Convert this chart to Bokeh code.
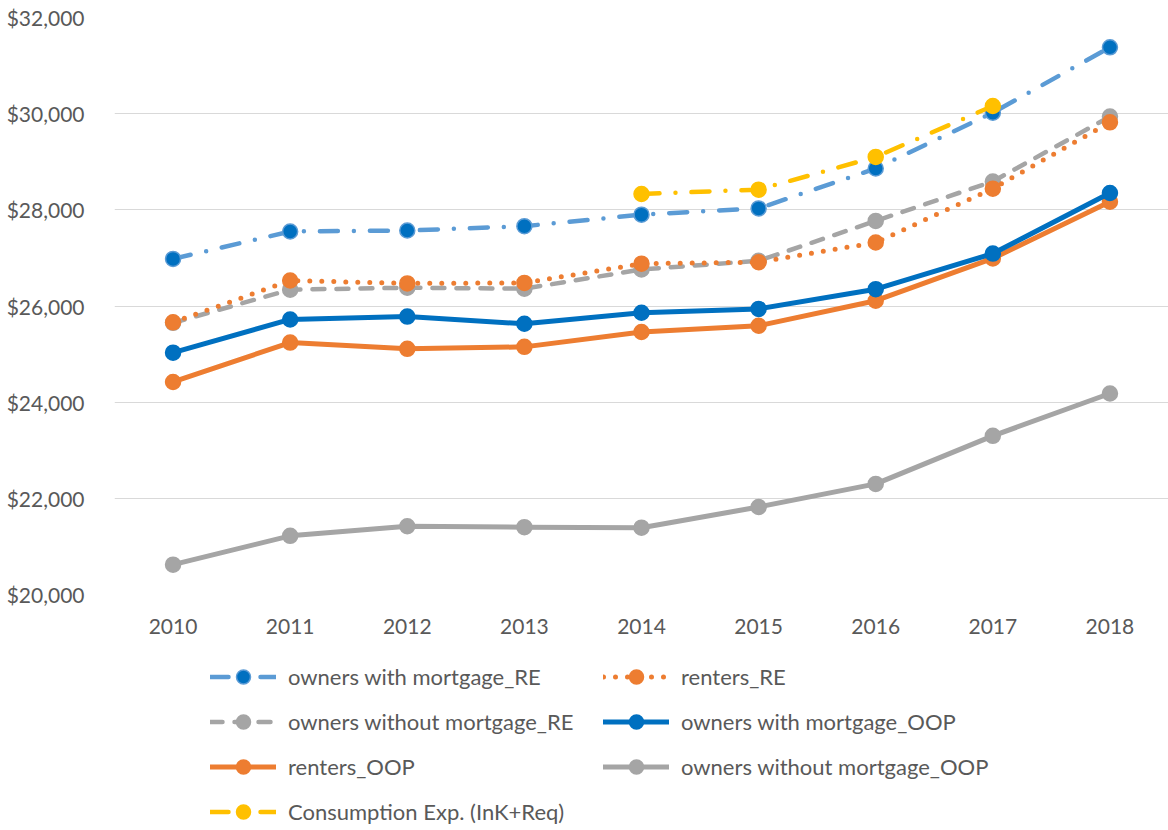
from bokeh.plotting import figure
from bokeh.layouts import column
from bokeh.models import Legend, LegendItem, NumeralTickFormatter, FixedTicker, Range1d
from bokeh.embed import file_html
from bokeh.resources import INLINE

years = ["2010", "2011", "2012", "2013", "2014", "2015", "2016", "2017", "2018"]
owners_mortgage_RE = [26980, 27550, 27570, 27660, 27900, 28030, 28860, 30020, 31380]
renters_RE = [25660, 26530, 26470, 26480, 26880, 26910, 27320, 28440, 29820]
owners_nomortgage_RE = [25650, 26340, 26380, 26360, 26760, 26940, 27770, 28590, 29940]
owners_mortgage_OOP = [25030, 25720, 25780, 25630, 25860, 25940, 26350, 27090, 28350]
renters_OOP = [24420, 25240, 25110, 25150, 25460, 25590, 26110, 26990, 28170]
owners_nomortgage_OOP = [20620, 21220, 21420, 21400, 21390, 21820, 22300, 23300, 24180]
consumption_years = ["2014", "2015", "2016", "2017"]
consumption = [28330, 28420, 29100, 30160]
y_ticks = [20000, 22000, 24000, 26000, 28000, 30000, 32000]

FONT = "Lato"
TXT = "#595959"

p = figure(x_range=years, y_range=Range1d(20000, 32000), width=1168, height=640,
           output_backend="svg", toolbar_location=None,
           min_border_left=114, min_border_right=0, min_border_top=17, min_border_bottom=46)
p.outline_line_color = None
p.xgrid.grid_line_color = None
p.ygrid.grid_line_color = "#D9D9D9"
p.ygrid.grid_line_width = 1
p.yaxis.ticker = FixedTicker(ticks=y_ticks)
p.yaxis.formatter = NumeralTickFormatter(format="$0,0")
for ax in (p.xaxis[0], p.yaxis[0]):
    ax.axis_line_color = None
    ax.major_tick_line_color = None
    ax.minor_tick_line_color = None
    ax.major_label_text_font = FONT
    ax.major_label_text_font_size = "21px"
    ax.major_label_text_color = TXT
p.yaxis.major_label_standoff = 24
p.xaxis.major_label_standoff = 18

# legend figure (frame aligned with the main plot's frame)
lp = figure(width=1168, height=190, output_backend="svg", toolbar_location=None,
            x_axis_type=None, y_axis_type=None,
            min_border_left=114, min_border_right=0, min_border_top=0, min_border_bottom=0,
            x_range=Range1d(0, 1), y_range=Range1d(0, 1))
lp.outline_line_color = None
lp.grid.grid_line_color = None

items = []
hidden_x = [-10, -9]
hidden_y = [-10, -9]

def series(xs, ys, lcolor, mcolor, dash, label, lw=4.5, msize=15):
    style_l = dict(line_color=lcolor, line_width=lw, line_dash=dash,
                   line_cap="round", line_join="round")
    style_m = dict(marker="circle", size=msize, fill_color=mcolor,
                   line_color=lcolor, line_width=1.5)
    p.line(xs, ys, **style_l)
    p.scatter(xs, ys, **style_m)
    r1 = lp.line(hidden_x, hidden_y, **style_l)
    r2 = lp.scatter(hidden_x, hidden_y, **style_m)
    items.append(LegendItem(label=label, renderers=[r1, r2]))

series(years, owners_nomortgage_OOP, "#A5A5A5", "#A5A5A5", "solid", "owners without mortgage_OOP", lw=5)
series(years, renters_OOP, "#ED7D31", "#ED7D31", "solid", "renters_OOP", lw=5)
series(years, owners_mortgage_OOP, "#0070C0", "#0070C0", "solid", "owners with mortgage_OOP", lw=5)
series(years, owners_nomortgage_RE, "#A5A5A5", "#A5A5A5", "12 12", "owners without mortgage_RE")
series(years, renters_RE, "#ED7D31", "#ED7D31", "0 12", "renters_RE", lw=5)
series(years, owners_mortgage_RE, "#5B9BD5", "#0070C0", "18 16 0 16", "owners with mortgage_RE")
series(consumption_years, consumption, "#FFC000", "#FFC000", "18 16 0 16", "Consumption Exp. (InK+Req)")

order = ["owners with mortgage_RE", "renters_RE", "owners without mortgage_RE",
         "owners with mortgage_OOP", "renters_OOP", "owners without mortgage_OOP",
         "Consumption Exp. (InK+Req)"]
lookup = {it.label.value: it for it in items}
legend = Legend(items=[lookup[k] for k in order], ncols=2, orientation="horizontal",
                location=(96, 1),
                label_text_font=FONT, label_text_font_size="22px", label_text_color=TXT,
                glyph_width=66, glyph_height=35, label_height=26, label_width=305,
                label_standoff=12, spacing=10, padding=0, margin=0,
                border_line_color=None, background_fill_alpha=0)
lp.add_layout(legend)

open("out.html", "w").write(file_html(column(p, lp, spacing=0), INLINE))
